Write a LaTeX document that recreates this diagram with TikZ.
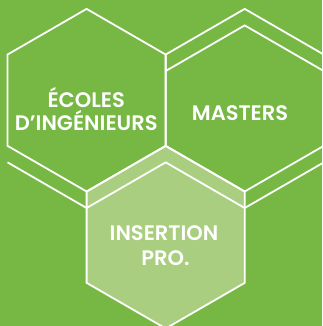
\documentclass[tikz,border=0pt]{standalone}
\usepackage{fontspec}
\setmainfont{Poppins}[BoldFont={Poppins SemiBold}]
\definecolor{bggreen}{RGB}{119,183,68}
\definecolor{lightgreen}{RGB}{170,206,128}
\tikzset{
  edge/.style={draw=white, line width=1.8pt, line join=miter},
  label/.style={text=white, font=\fontsize{21}{25}\selectfont\bfseries, inner sep=0pt, anchor=base},
}
\begin{document}
\begin{tikzpicture}[x=1pt,y=-1pt]
\def\R{91.3}\def\w{79.07}\def\h{45.65}\def\d{16.5}
\useasboundingbox (0,0) rectangle (322,326);
\fill[bggreen] (0,0) rectangle (322,326);
\begin{scope}
\clip (0,0) rectangle (322,326);
% hexagon 3 fill
\fill[lightgreen] (165.7,237.2-\R) -- ++(\w,\h) -- ++(0,2*\h) -- ++(-\w,\h) -- ++(-\w,-\h) -- ++(0,-2*\h) -- cycle;
% hexagon 1
\draw[edge] (86.6,100.2-\R) -- ++(\w,\h) -- ++(0,2*\h) -- ++(-\w,\h) -- ++(-\w,-\h) -- ++(0,-2*\h) -- cycle;
% hexagon 2
\draw[edge] (244.7,100.2-\R) -- ++(\w,\h) -- ++(0,2*\h) -- ++(-\w,\h) -- ++(-\w,-\h) -- ++(0,-2*\h) -- cycle;
% hexagon 3 outline
\draw[edge] (165.7,237.2-\R) -- ++(\w,\h) -- ++(0,2*\h) -- ++(-\w,\h) -- ++(-\w,-\h) -- ++(0,-2*\h) -- cycle;
% shifted (depth) lines
\draw[edge] (244.7-\w,100.2-\h+\d) -- ++(\w,-\h) -- ++(\w,\h);
\draw[edge] (86.6-\w,100.2+\h+\d) -- ++(\w,\h) -- ++(\w,-\h) -- ++(\w,\h) -- ++(\w,-\h);
\end{scope}
\node[label] (ecoles1) at (86.2,107.7) {ÉCOLES};
\node[label] (ecoles2) at (86.2,130.2) {D’INGÉNIEURS};
\node[label] (masters) at (240,120) {MASTERS};
\node[label] (insert1) at (164,240) {INSERTION};
\node[label] (insert2) at (165.5,265) {PRO.};
\end{tikzpicture}
\end{document}
